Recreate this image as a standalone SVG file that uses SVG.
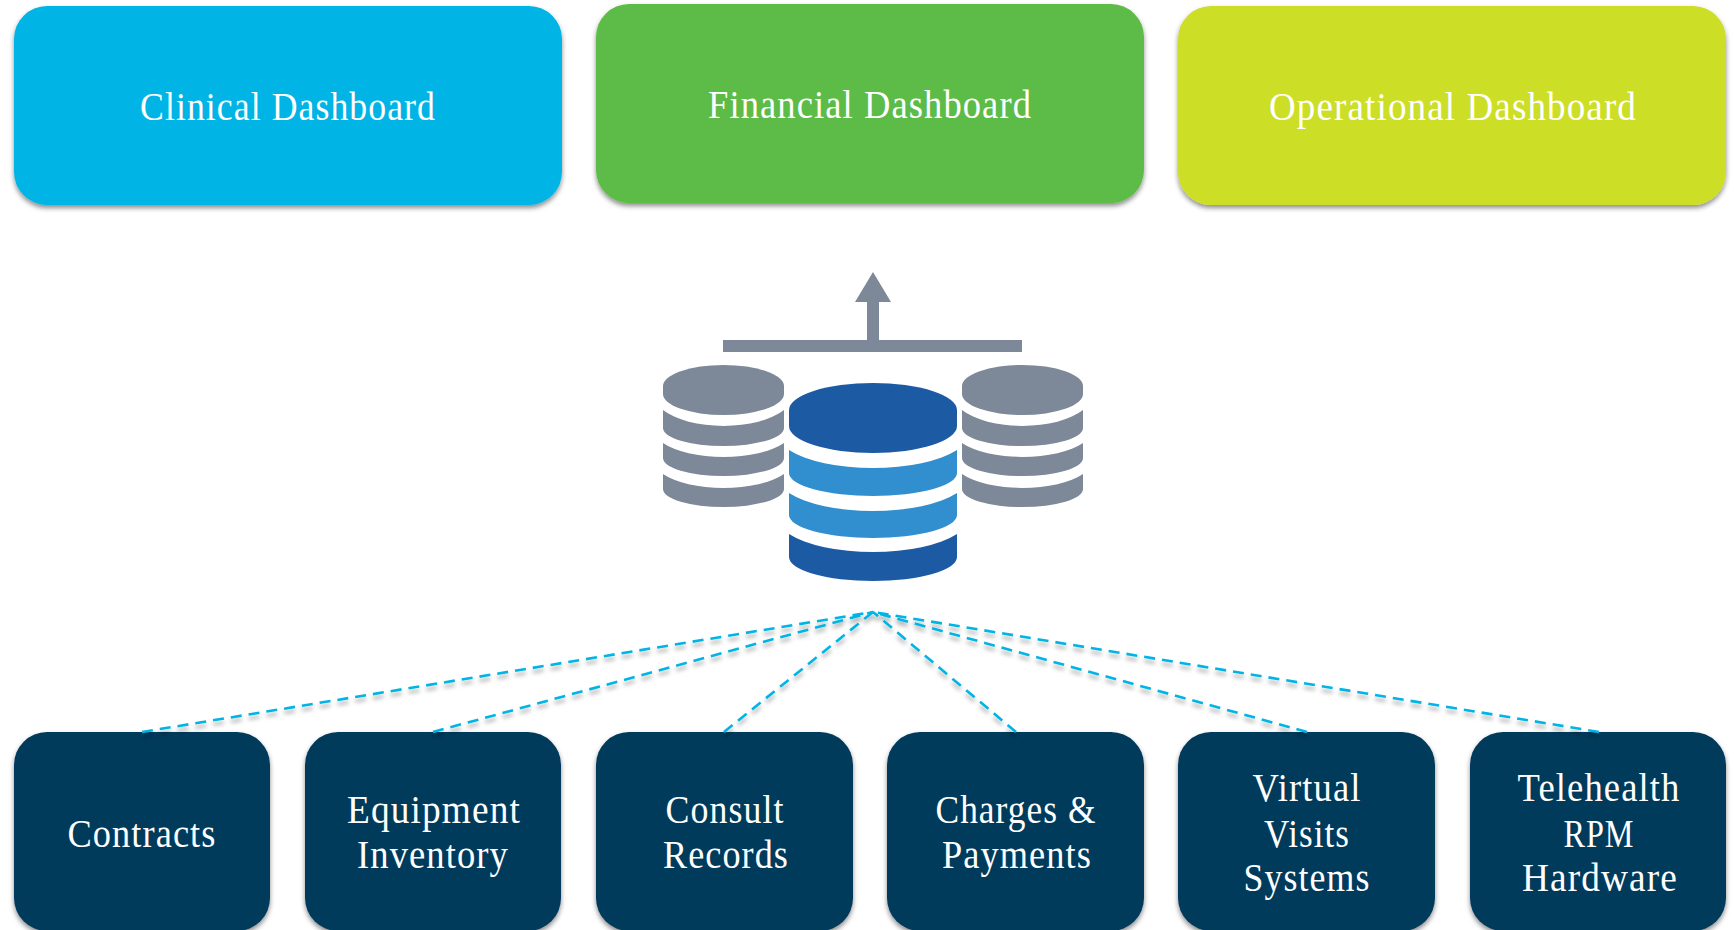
<svg xmlns="http://www.w3.org/2000/svg" width="1735" height="930" viewBox="0 0 1735 930">
<defs>
<filter id="sh" x="-5%" y="-5%" width="110%" height="115%"><feDropShadow dx="0" dy="3" stdDeviation="2.5" flood-color="#000" flood-opacity="0.45"/></filter>
<filter id="lsh" x="0" y="560" width="1735" height="200" filterUnits="userSpaceOnUse"><feDropShadow dx="0" dy="4" stdDeviation="2" flood-color="#000" flood-opacity="0.35"/></filter>
</defs>
<style>
text{font-family:"Liberation Serif","Noto Serif",serif;font-size:40px;letter-spacing:1.2px;fill:#fff;text-anchor:middle}
.box{filter:url(#sh)}
.navy{fill:#043A5B}
.grey{fill:#7D8998}
.dark{fill:#1C5AA4}
.light{fill:#318FCF}
#connectors line{stroke:#00B4E5;stroke-width:2.6;stroke-dasharray:11 7;fill:none}
</style>
<g id="clinical"><rect class="box" x="14" y="6" width="548" height="199" rx="33" fill="#00B4E5"/><text x="288" y="120" textLength="296" lengthAdjust="spacingAndGlyphs">Clinical Dashboard</text></g>
<g id="financial"><rect class="box" x="596" y="4" width="548" height="199" rx="33" fill="#5DBB46"/><text x="870" y="118" textLength="324" lengthAdjust="spacingAndGlyphs">Financial Dashboard</text></g>
<g id="operational"><rect class="box" x="1178" y="6" width="548" height="199" rx="33" fill="#CDDE27"/><text x="1453" y="120" textLength="368" lengthAdjust="spacingAndGlyphs">Operational Dashboard</text></g>
<g id="contracts"><rect class="box navy" x="14" y="732" width="256" height="199" rx="33"/><text x="142" y="847" textLength="149" lengthAdjust="spacingAndGlyphs">Contracts</text></g>
<g id="equipment"><rect class="box navy" x="305" y="732" width="256" height="199" rx="33"/><text x="434" y="823" textLength="174" lengthAdjust="spacingAndGlyphs">Equipment</text><text x="433" y="868" textLength="152" lengthAdjust="spacingAndGlyphs">Inventory</text></g>
<g id="consult"><rect class="box navy" x="596" y="732" width="257" height="199" rx="33"/><text x="725" y="823" textLength="119" lengthAdjust="spacingAndGlyphs">Consult</text><text x="726" y="868" textLength="126" lengthAdjust="spacingAndGlyphs">Records</text></g>
<g id="charges"><rect class="box navy" x="887" y="732" width="257" height="199" rx="33"/><text x="1016" y="823" textLength="161" lengthAdjust="spacingAndGlyphs">Charges &amp;</text><text x="1017" y="868" textLength="150" lengthAdjust="spacingAndGlyphs">Payments</text></g>
<g id="virtual"><rect class="box navy" x="1178" y="732" width="257" height="199" rx="33"/><text x="1307" y="801" textLength="109" lengthAdjust="spacingAndGlyphs">Virtual</text><text x="1307" y="847" textLength="86" lengthAdjust="spacingAndGlyphs">Visits</text><text x="1307" y="891" textLength="127" lengthAdjust="spacingAndGlyphs">Systems</text></g>
<g id="telehealth"><rect class="box navy" x="1470" y="732" width="256" height="199" rx="33"/><text x="1599" y="801" textLength="163" lengthAdjust="spacingAndGlyphs">Telehealth</text><text x="1599" y="847" textLength="71" lengthAdjust="spacingAndGlyphs">RPM</text><text x="1600" y="891" textLength="156" lengthAdjust="spacingAndGlyphs">Hardware</text></g>
<g id="connectors" filter="url(#lsh)">
<line x2="873" y2="612" x1="142" y1="732"/>
<line x2="873" y2="612" x1="433" y1="732"/>
<line x2="873" y2="612" x1="724" y1="732"/>
<line x2="873" y2="612" x1="1016" y1="732"/>
<line x2="873" y2="612" x1="1307" y1="732"/>
<line x2="873" y2="612" x1="1599" y1="732"/>
</g>
<g id="merge-arrow"><path class="grey" d="M873 272L891 302H879V340H1022V352H723V340H867V302H855Z"/></g>
<g id="db-left" class="grey">
<path d="M663 386A60.5 21 0 0 1 784 386V394A60.5 21 0 0 1 663 394Z"/>
<path d="M663 410A70 32 0 0 0 784 410V428A60.5 18 0 0 1 663 428Z"/>
<path d="M663 443A70 28 0 0 0 784 443V458A60.5 18 0 0 1 663 458Z"/>
<path d="M663 474A70 28 0 0 0 784 474V489A60.5 18 0 0 1 663 489Z"/>
</g>
<g id="db-right" class="grey">
<path d="M962 386A60.5 21 0 0 1 1083 386V394A60.5 21 0 0 1 962 394Z"/>
<path d="M962 410A70 32 0 0 0 1083 410V428A60.5 18 0 0 1 962 428Z"/>
<path d="M962 443A70 28 0 0 0 1083 443V458A60.5 18 0 0 1 962 458Z"/>
<path d="M962 474A70 28 0 0 0 1083 474V489A60.5 18 0 0 1 962 489Z"/>
</g>
<g id="db-center">
<path class="dark" d="M789 410A84 27 0 0 1 957 410V426A84 27 0 0 1 789 426Z"/>
<path class="light" d="M789 450A97 36 0 0 0 957 450V473A84 23 0 0 1 789 473Z"/>
<path class="light" d="M789 493A97 36 0 0 0 957 493V515A84 23 0 0 1 789 515Z"/>
<path class="dark" d="M789 534A97 36 0 0 0 957 534V557A84 24 0 0 1 789 557Z"/>
</g>
</svg>
